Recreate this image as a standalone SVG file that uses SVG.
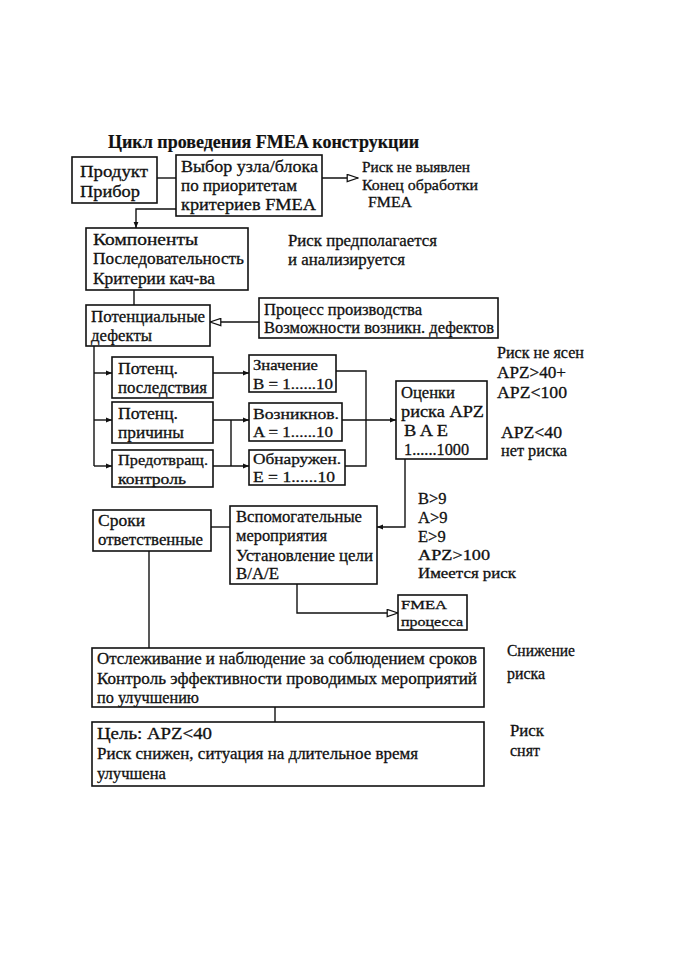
<svg xmlns="http://www.w3.org/2000/svg" width="673" height="953" viewBox="0 0 673 953">
<style>
text{font-family:"Liberation Serif","Times New Roman",serif;font-size:16.5px;fill:#111;stroke:#111;stroke-width:0.3}
.t{font-size:18px;font-weight:bold;stroke-width:0.2}
.m{font-size:15px}
.s{font-size:13.5px}
.b{fill:#fff;stroke:#111;stroke-width:1.6}
.c{fill:none;stroke:#111;stroke-width:1.4}
</style>
<defs>
<marker id="fa" viewBox="0 0 10 10" refX="10" refY="5" markerWidth="8" markerHeight="6" markerUnits="userSpaceOnUse" orient="auto"><path d="M0,1 L10,5 L0,9 Z" fill="#111"/></marker>
<marker id="ha" viewBox="0 0 14 10" refX="13" refY="5" markerWidth="13" markerHeight="9" markerUnits="userSpaceOnUse" orient="auto"><path d="M1,1 L13,5 L1,9 Z" fill="#fff" stroke="#111" stroke-width="1.4"/></marker>
</defs>
<rect width="673" height="953" fill="#fff"/>
<text class="t" x="108" y="148">Цикл проведения FMEA конструкции</text>
<g id="connectors">
<line class="c" x1="157" y1="178" x2="176" y2="178"/>
<line class="c" x1="322" y1="178" x2="358" y2="178" marker-end="url(#ha)"/>
<polyline class="c" points="176,209 136,209 136,228" marker-end="url(#fa)"/>
<line class="c" x1="134" y1="290" x2="134" y2="305"/>
<line class="c" x1="259" y1="322" x2="210" y2="322" marker-end="url(#ha)"/>
<line class="c" x1="94" y1="346" x2="94" y2="466"/>
<line class="c" x1="94" y1="373" x2="112" y2="373" marker-end="url(#fa)"/>
<line class="c" x1="94" y1="420" x2="112" y2="420" marker-end="url(#fa)"/>
<line class="c" x1="94" y1="466" x2="112" y2="466" marker-end="url(#fa)"/>
<line class="c" x1="213" y1="373" x2="249" y2="373" marker-end="url(#fa)"/>
<line class="c" x1="213" y1="420" x2="249" y2="420" marker-end="url(#fa)"/>
<line class="c" x1="231" y1="420" x2="231" y2="466"/>
<line class="c" x1="213" y1="466" x2="249" y2="466" marker-end="url(#fa)"/>
<polyline class="c" points="336,371 366,371 366,466 345,466"/>
<line class="c" x1="342" y1="420" x2="396" y2="420" marker-end="url(#fa)"/>
<polyline class="c" points="405,459 405,527 377,527" marker-end="url(#fa)"/>
<line class="c" x1="211" y1="527" x2="230" y2="527"/>
<line class="c" x1="149" y1="551" x2="149" y2="648"/>
<polyline class="c" points="297,584 297,613 398,613" marker-end="url(#ha)"/>
<line class="c" x1="275" y1="707" x2="275" y2="722"/>
</g>
<g id="produkt"><rect class="b" x="72" y="157" width="85" height="46"/><text x="80" y="177" textLength="68" lengthAdjust="spacingAndGlyphs">Продукт</text><text x="80" y="197" textLength="60" lengthAdjust="spacingAndGlyphs">Прибор</text></g>
<g id="vybor"><rect class="b" x="176" y="155" width="146" height="61"/><text x="181" y="172" textLength="137" lengthAdjust="spacingAndGlyphs">Выбор узла/блока</text><text x="181" y="191" textLength="116" lengthAdjust="spacingAndGlyphs">по приоритетам</text><text x="181" y="210" textLength="135" lengthAdjust="spacingAndGlyphs">критериев  FMEA</text></g>
<g id="risk-ne-vyyavlen"><text class="m" x="362" y="172" textLength="108" lengthAdjust="spacingAndGlyphs">Риск не выявлен</text><text class="m" x="362" y="190" textLength="116" lengthAdjust="spacingAndGlyphs">Конец обработки</text><text class="m" x="368" y="207" textLength="44" lengthAdjust="spacingAndGlyphs">FMEA</text></g>
<g id="komponenty"><rect class="b" x="86" y="228" width="162" height="62"/><text x="93" y="245" textLength="105" lengthAdjust="spacingAndGlyphs">Компоненты</text><text x="93" y="264" textLength="151" lengthAdjust="spacingAndGlyphs">Последовательность</text><text x="93" y="284" textLength="122" lengthAdjust="spacingAndGlyphs">Критерии кач-ва</text></g>
<g id="risk-predpolagaetsya"><text x="288" y="246" textLength="149" lengthAdjust="spacingAndGlyphs">Риск предполагается</text><text x="288" y="265" textLength="117" lengthAdjust="spacingAndGlyphs">и анализируется</text></g>
<g id="potentsialnye"><rect class="b" x="86" y="305" width="124" height="41"/><text x="91" y="322" textLength="114" lengthAdjust="spacingAndGlyphs">Потенциальные</text><text x="91" y="341" textLength="61" lengthAdjust="spacingAndGlyphs">дефекты</text></g>
<g id="protsess"><rect class="b" x="259" y="298" width="239" height="40"/><text x="264" y="315" textLength="158" lengthAdjust="spacingAndGlyphs">Процесс производства</text><text x="264" y="333" textLength="230" lengthAdjust="spacingAndGlyphs">Возможности возникн. дефектов</text></g>
<g id="posledstviya"><rect class="b" x="112" y="357" width="101" height="41"/><text x="118" y="374" textLength="60" lengthAdjust="spacingAndGlyphs">Потенц.</text><text x="118" y="393" textLength="89" lengthAdjust="spacingAndGlyphs">последствия</text></g>
<g id="prichiny"><rect class="b" x="112" y="402" width="101" height="41"/><text x="118" y="419" textLength="60" lengthAdjust="spacingAndGlyphs">Потенц.</text><text x="118" y="438" textLength="66" lengthAdjust="spacingAndGlyphs">причины</text></g>
<g id="kontrol"><rect class="b" x="112" y="450" width="101" height="37"/><text class="m" x="118" y="465" textLength="90" lengthAdjust="spacingAndGlyphs">Предотвращ.</text><text class="m" x="118" y="484" textLength="68" lengthAdjust="spacingAndGlyphs">контроль</text></g>
<g id="znachenie"><rect class="b" x="249" y="355" width="87" height="37"/><text class="m" x="253" y="370" textLength="65" lengthAdjust="spacingAndGlyphs">Значение</text><text class="m" x="253" y="389" textLength="80" lengthAdjust="spacingAndGlyphs">B = 1......10</text></g>
<g id="vozniknov"><rect class="b" x="249" y="403" width="93" height="38"/><text class="m" x="253" y="419" textLength="86" lengthAdjust="spacingAndGlyphs">Возникнов.</text><text class="m" x="253" y="437" textLength="80" lengthAdjust="spacingAndGlyphs">A = 1......10</text></g>
<g id="obnaruzhen"><rect class="b" x="249" y="450" width="96" height="35"/><text class="m" x="253" y="464" textLength="88" lengthAdjust="spacingAndGlyphs">Обнаружен.</text><text class="m" x="253" y="482" textLength="82" lengthAdjust="spacingAndGlyphs">E = 1......10</text></g>
<g id="otsenki"><rect class="b" x="396" y="381" width="91" height="78"/><text x="401" y="398" textLength="54" lengthAdjust="spacingAndGlyphs">Оценки</text><text x="401" y="417" textLength="83" lengthAdjust="spacingAndGlyphs">риска  APZ</text><text x="404" y="436" textLength="44" lengthAdjust="spacingAndGlyphs">B A E</text><text x="404" y="455" textLength="65" lengthAdjust="spacingAndGlyphs">1......1000</text></g>
<g id="risk-ne-yasen"><text x="497" y="358" textLength="87" lengthAdjust="spacingAndGlyphs">Риск не ясен</text><text x="497" y="378" textLength="69" lengthAdjust="spacingAndGlyphs">APZ&gt;40+</text><text x="497" y="398" textLength="70" lengthAdjust="spacingAndGlyphs">APZ&lt;100</text><text x="501" y="438" textLength="61" lengthAdjust="spacingAndGlyphs">APZ&lt;40</text><text x="501" y="456" textLength="66" lengthAdjust="spacingAndGlyphs">нет риска</text></g>
<g id="imeetsya-risk"><text x="418" y="504">B&gt;9</text><text x="418" y="523">A&gt;9</text><text x="418" y="542">E&gt;9</text><text class="m" x="418" y="560" textLength="72" lengthAdjust="spacingAndGlyphs">APZ&gt;100</text><text class="m" x="418" y="578" textLength="98" lengthAdjust="spacingAndGlyphs">Имеется риск</text></g>
<g id="sroki"><rect class="b" x="93" y="510" width="118" height="41"/><text x="98" y="526" textLength="47" lengthAdjust="spacingAndGlyphs">Сроки</text><text x="98" y="545" textLength="105" lengthAdjust="spacingAndGlyphs">ответственные</text></g>
<g id="vspomogatelnye"><rect class="b" x="230" y="506" width="147" height="78"/><text x="236" y="522" textLength="126" lengthAdjust="spacingAndGlyphs">Вспомогательные</text><text x="236" y="541" textLength="91" lengthAdjust="spacingAndGlyphs">мероприятия</text><text x="236" y="561" textLength="137" lengthAdjust="spacingAndGlyphs">Установление цели</text><text x="236" y="579" textLength="43" lengthAdjust="spacingAndGlyphs">B/A/E</text></g>
<g id="fmea-protsessa"><rect class="b" x="398" y="595" width="69" height="35"/><text class="s" x="401" y="609" textLength="46" lengthAdjust="spacingAndGlyphs">FMEA</text><text class="s" x="401" y="626" textLength="62" lengthAdjust="spacingAndGlyphs">процесса</text></g>
<g id="otslezhivanie"><rect class="b" x="92" y="648" width="392" height="59"/><text x="97" y="664" textLength="380" lengthAdjust="spacingAndGlyphs">Отслеживание и наблюдение за соблюдением сроков</text><text x="97" y="684" textLength="380" lengthAdjust="spacingAndGlyphs">Контроль эффективности проводимых мероприятий</text><text x="97" y="703" textLength="102" lengthAdjust="spacingAndGlyphs">по улучшению</text></g>
<g id="snizhenie"><text x="507" y="656" textLength="68" lengthAdjust="spacingAndGlyphs">Снижение</text><text x="507" y="679" textLength="38" lengthAdjust="spacingAndGlyphs">риска</text></g>
<g id="tsel"><rect class="b" x="92" y="722" width="392" height="64"/><text x="97" y="739" textLength="115" lengthAdjust="spacingAndGlyphs">Цель: APZ&lt;40</text><text x="97" y="759" textLength="321" lengthAdjust="spacingAndGlyphs">Риск снижен, ситуация на длительное время</text><text x="97" y="779" textLength="69" lengthAdjust="spacingAndGlyphs">улучшена</text></g>
<g id="risk-snyat"><text x="510" y="736" textLength="34" lengthAdjust="spacingAndGlyphs">Риск</text><text x="510" y="756" textLength="30" lengthAdjust="spacingAndGlyphs">снят</text></g>
</svg>
